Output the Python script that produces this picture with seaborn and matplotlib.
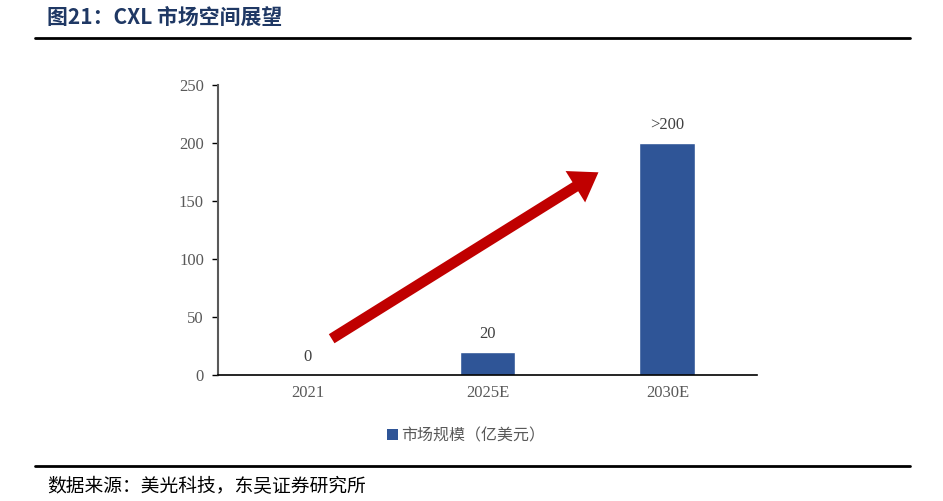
import matplotlib
matplotlib.use("Agg")
import matplotlib.pyplot as plt
from matplotlib.patches import Patch
import seaborn as sns
import pandas as pd

# data
years = ["2021", "2025E", "2030E"]
market_size = [0, 20, 200]
bar_labels = ["0", "20", ">200"]
yticks = [0, 50, 100, 150, 200, 250]

sns.set_theme(style="white")
plt.rcParams["font.family"] = ["Liberation Serif", "Noto Sans CJK SC", "DejaVu Sans"]

df = pd.DataFrame({"year": years, "size": market_size})

fig = plt.figure(figsize=(9.43, 5.01), dpi=100)
ax = fig.add_axes([0.231, 0.2515, 0.572, 0.5788])

bar_color = "#2F5597"
sns.barplot(data=df, x="year", y="size", color=bar_color, width=0.31,
            saturation=1, ax=ax)

ax.set_ylim(0, 250)
ax.set_xlim(-0.5, 2.5)
ax.set_yticks(yticks)
ax.set_xlabel("")
ax.set_ylabel("")
grey = "#595959"
ax.tick_params(axis="y", labelsize=12, labelcolor=grey, length=4, width=1,
               color="black", left=True, pad=6)
ax.tick_params(axis="x", labelsize=12, labelcolor=grey, length=0, pad=7)
for s in ["top", "right"]:
    ax.spines[s].set_visible(False)
ax.spines["left"].set_color("#595959")
ax.spines["left"].set_linewidth(1.5)
ax.spines["bottom"].set_color("black")
ax.spines["bottom"].set_linewidth(1.2)

# value labels
for i, (v, lab) in enumerate(zip(market_size, bar_labels)):
    ax.annotate(lab, (i, v), xytext=(0, 7), textcoords="offset points",
                ha="center", va="bottom", fontsize=12, color="#404040")

# big red trend arrow
ax.annotate("", xy=(1.63, 176), xytext=(0.12, 30),
            arrowprops=dict(arrowstyle="simple,head_width=1.9,head_length=1.4,tail_width=0.55",
                            color="#C00000", mutation_scale=14, lw=0))

# legend
handles = [Patch(facecolor=bar_color, edgecolor="none")]
leg = ax.legend(handles, ["市场规模（亿美元）"], loc="upper center", bbox_to_anchor=(0.46, -0.13),
                frameon=False, handlelength=0.7, handleheight=0.7, handletextpad=0.2,
                prop={"family": ["Noto Sans CJK SC"], "size": 11.5})
for t in leg.get_texts():
    t.set_color(grey)

# title, rules and source
fig.text(0.05, 0.965, "图21：CXL 市场空间展望", ha="left", va="center",
         fontsize=15, fontweight="bold", color="#1F3864",
         family=["Noto Sans CJK SC", "DejaVu Sans"])
fig.add_artist(plt.Line2D([0.037, 0.965], [0.925, 0.925], color="black", lw=2))
fig.add_artist(plt.Line2D([0.037, 0.965], [0.07, 0.07], color="black", lw=2))
fig.text(0.05, 0.029, "数据来源：美光科技，东吴证券研究所", ha="left", va="center",
         fontsize=13.5, color="black", family=["Noto Sans CJK SC", "DejaVu Sans"])

fig.savefig("out.png", dpi=100)
